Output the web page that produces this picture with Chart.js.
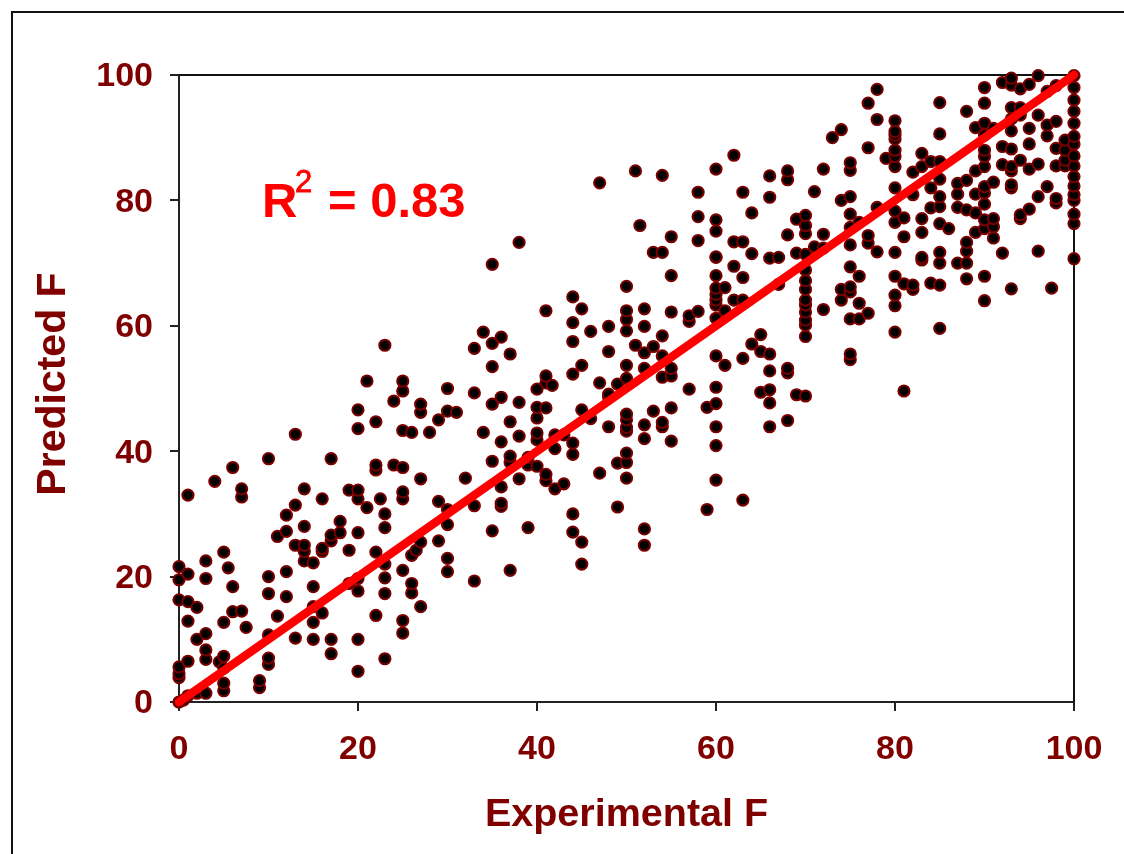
<!DOCTYPE html>
<html>
  <body style="margin: 0; background: #fff">
    <div style="position: absolute; left: 11px; top: 11px; right: 0; bottom: 0; border-left: 2.5px solid #111; border-top: 2.5px solid #111"></div>
    <div style="position: absolute; left: 0; top: 0; width: 1124px; height: 854px">
      <canvas id="scatterChart"></canvas>
    </div>

    <script src="https://cdn.jsdelivr.net/npm/chart.js"></script>

    <script>
      const experimentalF = [
        0, 0.5, 1, 2, 3, 4, 4.5, 5, 5.5, 6,
        7, 7.5, 9, 10, 11, 12, 13, 14, 15, 16,
        17, 18, 19, 20, 21, 22, 22.5, 23, 24, 25,
        26, 26.5, 27, 28, 29, 30, 31, 32, 33, 34,
        35, 36, 37, 38, 39, 40, 41, 41.7, 42, 43,
        44, 45, 46, 47, 48, 49, 50, 51, 51.5, 52,
        53, 54, 55, 57, 58, 59, 60, 61, 62, 63,
        64, 65, 66, 67, 68, 69, 70, 71, 72, 73,
        74, 75, 76, 77, 78, 79, 80, 81, 82, 83,
        84, 85, 86, 87, 88, 89, 90, 91, 92, 93,
        94, 95, 96, 97, 97.5, 98, 99, 100,
      ];

      // predicted values, one row for each entry of experimentalF
      const predictedF = [
        [0, 3.9, 4.5, 5.6, 16.3, 19.5, 21.6], // 0
        [0.3],
        [1, 6.5, 12.9, 16, 20.4, 33],
        [1.4, 10, 15.1],
        [1.4, 6.8, 8.3, 10.9, 19.7, 22.5],
        [35.2],
        [6.4],
        [1.8, 3, 5.4, 7.3, 12.7, 23.9],
        [21.4],
        [14.4, 18.4, 37.4],
        [14.5, 32.7, 34], // 7
        [11.9],
        [2.3, 3.4],
        [6, 7, 10.7, 17.3, 20, 38.8],
        [13.7, 26.4],
        [16.8, 20.8, 27.2, 29.8],
        [10.2, 25, 31.4, 42.7],
        [22.5, 24, 25, 28, 34],
        [10, 12.7, 15.2, 18.4, 22.2],
        [14.2, 24, 24.5, 32.4],
        [7.7, 10, 25.7, 26.6, 38.8], // 17
        [27, 28.8],
        [18.9, 24.2, 33.8],
        [4.9, 10, 17.7, 19.7, 27, 32.4, 33.8, 43.6, 46.6],
        [31, 51.2],
        [13.8, 23.9, 37, 37.8, 44.7],
        [32.4],
        [6.9, 17.3, 19.8, 22, 27.8, 30, 56.9],
        [37.8, 48],
        [11, 13, 21, 32.4, 33.5, 37.4, 43.3, 49.6, 51.2],
        [17.4, 18.9, 23.4, 43], // 26
        [24.2],
        [15.2, 25.5, 35.6, 46.2, 47.5],
        [43],
        [25.7, 32, 45],
        [20.8, 22.9, 28.3, 30.7, 46.4, 50],
        [46.2],
        [35.7],
        [19.3, 31.3, 49.3, 56.4],
        [43, 59],
        [27.3, 38.4, 47.5, 53.5, 57.2, 69.8], // 35
        [31.2, 31.7, 34.3, 41.5, 48.6, 58.2],
        [21, 38.2, 39.2, 44.7, 55.5],
        [35.6, 42.4, 47.8, 73.3],
        [27.8, 37.8, 39],
        [37.6, 41.8, 42.9, 45.3, 47, 49.9],
        [35.3, 36.3, 46.9, 50.9, 52, 62.4],
        [50.5],
        [34, 40.4, 42.6],
        [34.8, 42.6],
        [27.1, 30, 39.5, 41.3, 52.3, 57.5, 60.5, 64.6], // 44
        [22, 25.5, 46.6, 53.7, 62.7],
        [45.2, 59.1],
        [36.5, 50.9, 82.8],
        [43.9, 48.6, 49.1, 55.9, 59.9],
        [31.1, 38.1, 50.7],
        [35.7, 38.2, 39.7, 43.2, 43.8, 45, 45.9, 51.6, 53.7, 59.2, 61, 62.4, 66.3],
        [56.9, 84.7],
        [76],
        [25, 27.6, 42, 44.2, 53.2, 55.7, 59.9, 62.7],
        [46.4, 56.7, 71.7], // 53
        [43.9, 44.6, 51.8, 55.2, 58.4, 71.7, 84],
        [41.6, 46.9, 52, 53.2, 62.2, 68, 74.2],
        [49.9, 60.7, 61.6],
        [62.3, 73.6, 77.4, 81.3],
        [30.7, 47],
        [35.4, 40.9, 43.9, 47.6, 50.2, 55.2, 61.2, 63.3, 64.1, 65, 66, 68, 70.9, 71, 75.1, 76.9, 85],
        [53.7, 62.4, 66.1],
        [64.1, 69.5, 73.4, 87.2],
        [32.2, 54.8, 64.1, 67.7, 73.4, 81.3],
        [57.1, 71.5, 78], // 64
        [49.4, 55.9, 58.6],
        [43.9, 47.7, 49.8, 52.8, 55.5, 70.8, 80.5, 83.9],
        [66.6, 70.9],
        [44.9, 52.5, 53.2, 74.5, 83.3, 84.7],
        [49, 71.6, 77],
        [48.8, 58.3, 60.1, 60.9, 62.2, 63.3, 64.1, 65.8, 67.2, 68.9, 71.4, 74.7, 76, 77.6],
        [72.6, 81.4],
        [62.6, 72.4, 74.6, 85],
        [90],
        [64.1, 65.8, 80, 91.3], // 74
        [54.6, 55.5, 61.1, 65.4, 66.2, 69.4, 72.9, 75.7, 77.8, 80.6, 84.8, 86],
        [61.1, 63.6, 67.9, 76.5],
        [62, 73.2, 74.4, 88.4, 95.5],
        [71.8, 78.9, 92.9, 97.7],
        [86.7],
        [59, 63.2, 64.9, 67.9, 71.7, 76.5, 78.3, 82, 85.4, 87, 88, 89.8, 90.4, 91, 92.7],
        [49.6, 66.7, 74.2, 77.2],
        [65.8, 66.5, 80.9, 84.5],
        [70.5, 70.9, 74.9, 77.1, 85.4, 87.5],
        [66.8, 78.8, 82, 86.2], // 84
        [59.6, 66.5, 70, 71.7, 76.3, 79, 80.6, 83.4, 86.2, 90.6, 95.6],
        [75.5],
        [70, 78.9, 81, 82.7],
        [67.5, 70, 71.9, 73.3, 78.5, 83.2, 94.2],
        [74.9, 78, 81, 84.7, 91.6],
        [64, 67.9, 75.5, 76.9, 79.4, 81.2, 82.2, 85.4, 87, 88, 90.4, 92.3, 95.5, 98],
        [74, 75.8, 77.1, 82.9, 91.5],
        [71.6, 85.7, 88.6, 98.8],
        [65.9, 82, 82.5, 84.7, 85.4, 88.2, 91.1, 93, 94.8, 98.4, 99.5],
        [77.1, 77.7, 86.4, 93.6, 94.8, 97.8], // 94
        [78.6, 85, 89, 91.5, 98.5],
        [71.9, 80.6, 85.8, 93.6, 99.9],
        [82.2, 90.3, 92, 97.4],
        [66],
        [79.6, 80.3, 85.5, 88.3, 92.6, 98.3],
        [85.5, 86.4, 88, 89.6],
        [70.7, 76.3, 77.8, 80, 80.9, 82.3, 83.8, 85.5, 87.1, 89, 90.2, 92.3, 94.2, 96, 98, 99.9],
      ];

      const fitX = [0, 100];
      const fitY = [0, 100];
      const axisTicks = [0, 20, 40, 60, 80, 100];

      const maroon = "#800000";
      const fontFamily = "'Liberation Sans', Arial, sans-serif";

      const points = experimentalF.flatMap((x, i) =>
        predictedF[i].map((y) => ({ x: x, y: y }))
      );
      const fitLine = fitX.map((x, i) => ({ x: x, y: fitY[i] }));

      // top and right edges of the plot box, the y title and the R2 note
      const plotExtras = {
        id: "plotExtras",
        beforeDatasetsDraw(chart) {
          const { ctx, chartArea } = chart;
          ctx.save();
          ctx.strokeStyle = "#111";
          ctx.lineWidth = 2;
          ctx.beginPath();
          ctx.moveTo(chartArea.left, chartArea.top);
          ctx.lineTo(chartArea.right, chartArea.top);
          ctx.lineTo(chartArea.right, chartArea.bottom);
          ctx.stroke();
          ctx.restore();
        },
        afterDraw(chart) {
          const { ctx } = chart;
          ctx.save();
          ctx.fillStyle = "#ff0000";
          ctx.strokeStyle = "#ff0000";
          ctx.textBaseline = "alphabetic";
          ctx.font = "bold 49px " + fontFamily;
          ctx.fillText("R", 262, 217);
          ctx.fillText("= 0.83", 328, 217);
          ctx.font = "31px " + fontFamily;
          ctx.lineWidth = 0.8;
          ctx.fillText("2", 295, 192);
          ctx.strokeText("2", 295, 192);
          ctx.restore();

          ctx.save();
          ctx.translate(65, 384);
          ctx.rotate(-Math.PI / 2);
          ctx.fillStyle = maroon;
          ctx.textAlign = "center";
          ctx.textBaseline = "alphabetic";
          ctx.font = "bold 41px " + fontFamily;
          ctx.fillText("Predicted F", 0, 0);
          ctx.restore();
        },
      };

      const axisCommon = {
        type: "linear",
        min: 0,
        max: 100,
        border: { color: "#222", width: 2 },
        grid: {
          drawOnChartArea: false,
          color: "#222",
          lineWidth: 2,
          tickLength: 9,
        },
        afterBuildTicks: (axis) => {
          axis.ticks = axisTicks.map((v) => ({ value: v }));
        },
      };

      new Chart(document.getElementById("scatterChart"), {
        type: "scatter",
        data: {
          datasets: [
            {
              data: fitLine,
              showLine: true,
              borderColor: "#ff0000",
              borderWidth: 8.5,
              borderCapStyle: "round",
              pointRadius: 0,
              clip: false,
            },
            {
              data: points,
              backgroundColor: "#000",
              borderColor: "#7a0000",
              borderWidth: 2,
              pointRadius: 5.6,
              clip: false,
            },
          ],
        },
        options: {
          responsive: true,
          maintainAspectRatio: false,
          animation: false,
          events: [],
          layout: { padding: { top: 75, right: 50, bottom: 0, left: 0 } },
          plugins: {
            legend: { display: false },
            tooltip: { enabled: false },
          },
          scales: {
            x: {
              ...axisCommon,
              afterFit: (axis) => {
                axis.height = 152;
              },
              ticks: {
                color: maroon,
                padding: 18,
                maxRotation: 0,
                font: { family: fontFamily, size: 34, weight: "bold" },
              },
              title: {
                display: true,
                text: "Experimental F",
                color: maroon,
                padding: { top: 0, bottom: 15 },
                font: { family: fontFamily, size: 39.5, weight: "bold" },
              },
            },
            y: {
              ...axisCommon,
              afterFit: (axis) => {
                axis.width = 179;
              },
              ticks: {
                color: maroon,
                padding: 17,
                labelOffset: 2,
                font: { family: fontFamily, size: 34, weight: "bold" },
              },
            },
          },
        },
        plugins: [plotExtras],
      });
    </script>
  </body>
</html>
